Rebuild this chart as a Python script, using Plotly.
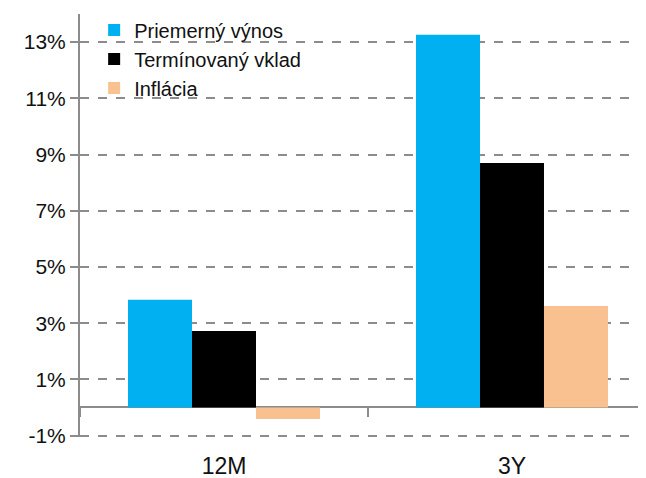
import plotly.graph_objects as go

categories = ["12M", "3Y"]
series_names = ["Priemerný výnos", "Termínovaný vklad", "Inflácia"]
priemerny_vynos = [3.83, 13.26]
terminovany_vklad = [2.72, 8.70]
inflacia = [-0.41, 3.61]
colors = ["#00B0F0", "#000000", "#F9C090"]
tick_vals = [-1, 1, 3, 5, 7, 9, 11, 13]
tick_text = ["-1%", "1%", "3%", "5%", "7%", "9%", "11%", "13%"]

y_min, y_max = -1.05, 14.0
FONT = "Liberation Sans, Arial, sans-serif"
GRAY = "#8c8c8c"

fig = go.Figure()
for name, vals, col in zip(series_names, [priemerny_vynos, terminovany_vklad, inflacia], colors):
    fig.add_trace(go.Bar(x=categories, y=vals, name=name, marker=dict(color=col, line=dict(width=0))))

# helper trace for the category-boundary ticks placed on the zero line
fig.add_trace(go.Scatter(x=categories, y=[None, None], xaxis="x2", showlegend=False,
                         hoverinfo="skip", mode="markers"))

# the page body adds an 8px margin; the figure size compensates for it
fig.update_layout(
    width=638, height=470,
    margin=dict(l=72, r=0, t=6, b=41),
    paper_bgcolor="white", plot_bgcolor="white",
    barmode="group", bargap=1/3, bargroupgap=0,
    font=dict(family=FONT, color="#111111"),
    legend=dict(x=0.025, y=1.008, xanchor="left", yanchor="top",
                font=dict(size=20, family=FONT, color="#111111"),
                bgcolor="rgba(0,0,0,0)", itemwidth=30, tracegroupgap=0),
    xaxis=dict(type="category", range=[-0.5, 1.4653], showline=False, showgrid=False,
               zeroline=False, ticks="", tickfont=dict(size=23), ticklabelstandoff=13,
               automargin=False),
    xaxis2=dict(type="category", overlaying="x", matches="x", anchor="free",
                position=(0 - y_min) / (y_max - y_min), showline=False, showgrid=False,
                zeroline=False, ticks="outside", tickson="boundaries", ticklen=9,
                tickwidth=2, tickcolor=GRAY, showticklabels=False, automargin=False),
    yaxis=dict(range=[y_min, y_max], tickvals=tick_vals, ticktext=tick_text,
               tickfont=dict(size=21), showline=True, linecolor=GRAY, linewidth=2,
               ticks="outside", ticklen=8, tickwidth=2, tickcolor=GRAY,
               showgrid=True, gridcolor=GRAY, gridwidth=2, griddash="dash",
               zeroline=True, zerolinecolor=GRAY, zerolinewidth=2, automargin=False),
)

fig.write_html("out.html")
